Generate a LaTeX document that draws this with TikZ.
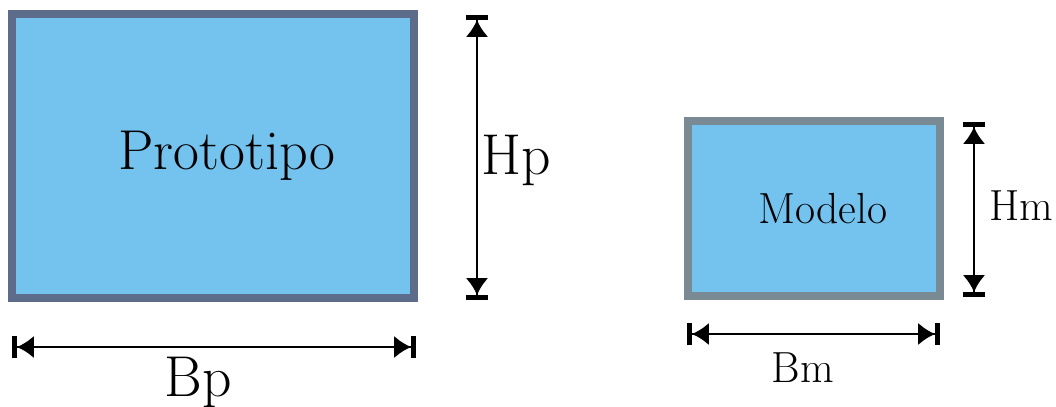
\documentclass[tikz,border=0pt]{standalone}
\usetikzlibrary{arrows.meta}
\definecolor{sky}{HTML}{74C3EF}
\definecolor{slate}{HTML}{5D6C8A}
\definecolor{steel}{HTML}{7A8A94}
\tikzset{
  box/.style={fill=sky,inner sep=0pt},
  dim/.style={line width=2pt,{Bar[width=16pt,line width=3.5pt,sep=0pt]Latex[length=12pt,width=16pt]}-{Latex[length=12pt,width=16pt]Bar[width=16pt,line width=3.5pt]}},
}
\begin{document}
\begin{tikzpicture}
\useasboundingbox (0,0) rectangle (26.4,-10.15);
% prototype and model
\node[box,draw=slate,line width=5.7pt,minimum width=10.05cm,minimum height=7.1cm,font=\fontsize{40}{44}\selectfont] (proto) at (5.325,-3.9) {\hspace{0.7cm}Prototipo};
\node[box,draw=steel,line width=5pt,minimum width=6.3cm,minimum height=4.375cm,font=\fontsize{31}{34}\selectfont] (model) at (20.35,-5.2125) {\hspace{0.45cm}Modelo};
% dimension lines
\coordinate (hptop) at (11.925,-0.375);\coordinate (hpbot) at (11.925,-7.5);
\coordinate (bpl) at (0.3,-8.675);\coordinate (bpr) at (10.4,-8.675);
\coordinate (hmtop) at (24.35,-3.05);\coordinate (hmbot) at (24.35,-7.425);
\coordinate (bml) at (17.175,-8.35);\coordinate (bmr) at (23.5,-8.35);
\draw[dim] (hptop)--(hpbot);\draw[dim] (bpl)--(bpr);
\draw[dim] (hmtop)--(hmbot);\draw[dim] (bml)--(bmr);
\node[font=\fontsize{41}{44}\selectfont] (hp) at (12.9,-4.0) {Hp};
\node[font=\fontsize{41}{44}\selectfont] (bp) at (4.95,-9.55) {Bp};
\node[font=\fontsize{31}{34}\selectfont] (hm) at (25.525,-5.15) {Hm};
\node[font=\fontsize{31}{34}\selectfont] (bm) at (20.075,-9.2) {Bm};
\end{tikzpicture}
\end{document}
